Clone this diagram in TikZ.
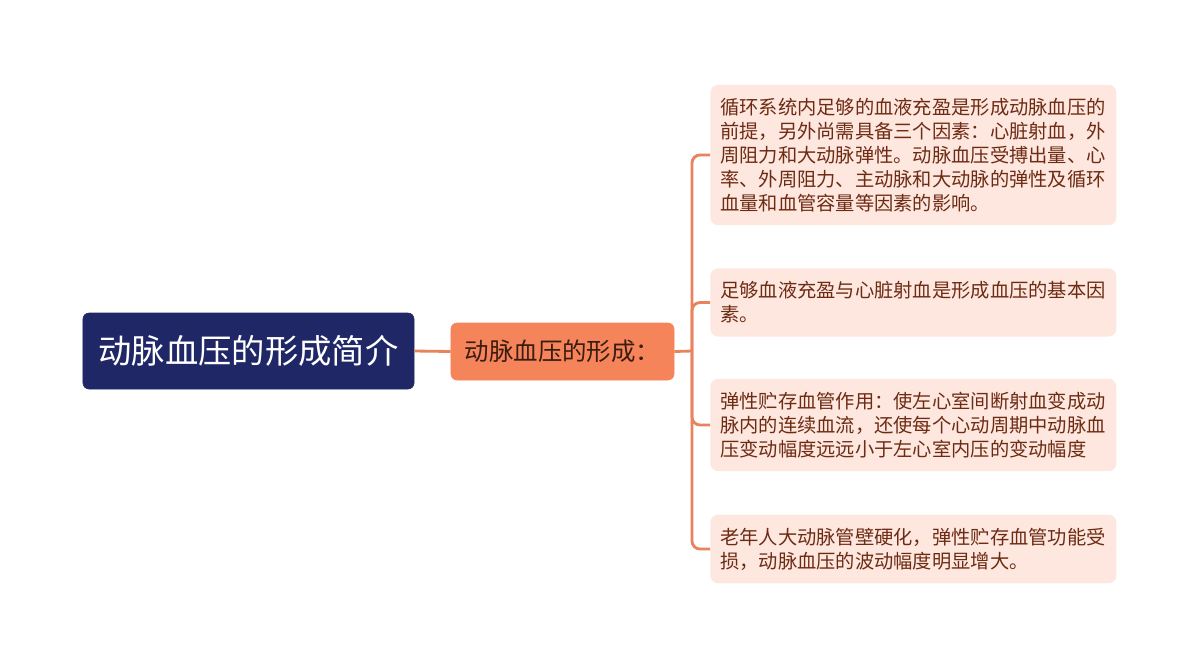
\documentclass[tikz,border=0pt]{standalone}
\usepackage{fontspec}
\setmainfont{Noto Sans CJK SC}
\usepackage{tikz}
\definecolor{rootblue}{HTML}{1F2766}
\definecolor{suborange}{HTML}{F6845A}
\definecolor{linkorange}{HTML}{E8835B}
\definecolor{leaffill}{HTML}{FDE7DE}
\definecolor{leaftext}{HTML}{6E2B14}
\definecolor{subtext}{HTML}{3A1C10}
\tikzset{
  rootbox/.style={fill=rootblue, draw=rootblue, rounded corners=0.15cm, text=white,
    minimum width=8.275cm, minimum height=1.9cm, font=\fontsize{23.7pt}{28pt}\selectfont},
  subbox/.style={fill=suborange, draw=suborange, rounded corners=0.15cm, text=subtext,
    minimum width=5.575cm, minimum height=1.425cm, font=\fontsize{17.4pt}{21pt}\selectfont},
  leafbox/.style={fill=leaffill, draw=none, rounded corners=0.2cm, text=leaftext, anchor=west,
    text width=9.65cm, inner xsep=0.25cm, inner ysep=0.33cm, align=left,
    font=\fontsize{13.7pt}{17.1pt}\selectfont},
  link/.style={draw=linkorange, line width=2pt},
}
\begin{document}
\begin{tikzpicture}[x=0.025cm, y=-0.025cm]
                \useasboundingbox (0,0) rectangle (1200,666);

                % Root and subtopic
                \node[rootbox] (root) at (248.5,351) {动脉血压的形成简介};
                \node[subbox] (form) at (562.5,351.5) {动脉血压的形成：};
                \draw[link] (root.east) -- (form.west);

                % Leaves
                \node[leafbox] (prem) at (710,155) {循环系统内足够的血液充盈是形成动脉血压的\\前提，另外尚需具备三个因素：心脏射血，外\\周阻力和大动脉弹性。动脉血压受搏出量、心\\率、外周阻力、主动脉和大动脉的弹性及循环\\血量和血管容量等因素的影响。};
                \node[leafbox] (basic) at (710,302.5) {足够血液充盈与心脏射血是形成血压的基本因\\素。};
                \node[leafbox] (elastic) at (710,425) {弹性贮存血管作用：使左心室间断射血变成动\\脉内的连续血流，还使每个心动周期中动脉血\\压变动幅度远远小于左心室内压的变动幅度};
                \node[leafbox] (aged) at (710,549) {老年人大动脉管壁硬化，弹性贮存血管功能受\\损，动脉血压的波动幅度明显增大。};

                % Bracket
                \coordinate (fork) at (692,351);
                \draw[link] (form.east) -- (fork);
                \foreach \leaf in {prem,basic,elastic,aged}
                    \draw[link, rounded corners=0.2cm] (fork) |- (\leaf.west);
            \end{tikzpicture}
\end{document}
